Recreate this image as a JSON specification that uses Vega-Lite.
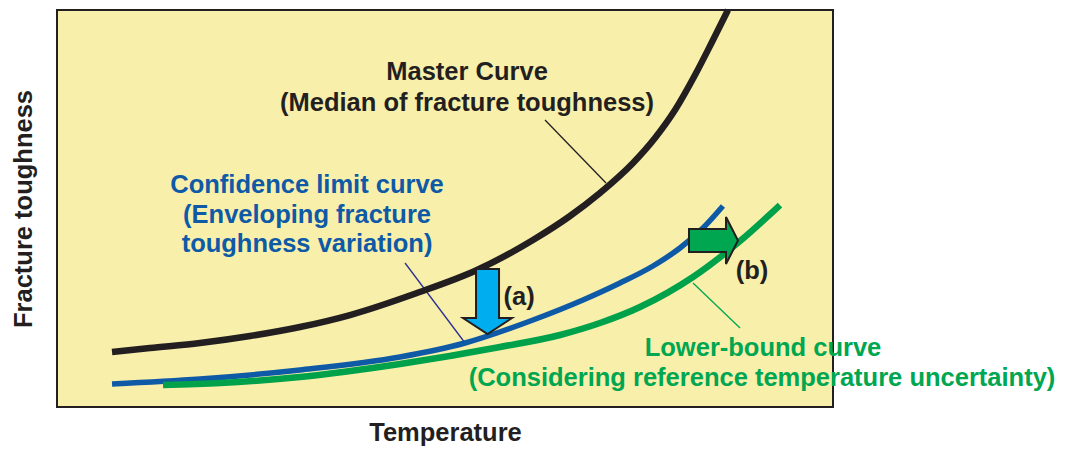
{
  "$schema": "https://vega.github.io/schema/vega-lite/v6.json",
  "width": 776,
  "height": 397,
  "autosize": {"type": "none"},
  "padding": {"left": 57, "top": 10, "right": 233, "bottom": 43},
  "background": "white",
  "config": {
    "view": {"stroke": "#231F20", "strokeWidth": 2, "fill": "#F8EFAB"},
    "font": "Liberation Sans"
  },
  "datasets": {
    "curves": [
      {"series": "master", "t": 7.09, "k": 13.85},
      {"series": "master", "t": 11.98, "k": 14.86},
      {"series": "master", "t": 18.43, "k": 16.12},
      {"series": "master", "t": 24.87, "k": 17.88},
      {"series": "master", "t": 31.31, "k": 20.15},
      {"series": "master", "t": 37.76, "k": 23.17},
      {"series": "master", "t": 46.39, "k": 28.72},
      {"series": "master", "t": 54.12, "k": 34.51},
      {"series": "master", "t": 61.34, "k": 42.07},
      {"series": "master", "t": 66.11, "k": 48.11},
      {"series": "master", "t": 69.97, "k": 53.9},
      {"series": "master", "t": 74.23, "k": 61.46},
      {"series": "master", "t": 77.06, "k": 67.76},
      {"series": "master", "t": 79.64, "k": 74.81},
      {"series": "master", "t": 82.22, "k": 83.63},
      {"series": "master", "t": 84.41, "k": 91.94},
      {"series": "master", "t": 86.47, "k": 100},
      {"series": "confidence", "t": 7.09, "k": 5.79},
      {"series": "confidence", "t": 18.43, "k": 7.05},
      {"series": "confidence", "t": 31.31, "k": 9.32},
      {"series": "confidence", "t": 44.2, "k": 12.59},
      {"series": "confidence", "t": 52.58, "k": 16.12},
      {"series": "confidence", "t": 61.34, "k": 21.91},
      {"series": "confidence", "t": 67.78, "k": 26.95},
      {"series": "confidence", "t": 72.55, "k": 31.23},
      {"series": "confidence", "t": 76.8, "k": 35.52},
      {"series": "confidence", "t": 80.28, "k": 40.05},
      {"series": "confidence", "t": 83.25, "k": 45.09},
      {"series": "confidence", "t": 85.82, "k": 50.63},
      {"series": "lower", "t": 13.66, "k": 5.54},
      {"series": "lower", "t": 21.01, "k": 6.05},
      {"series": "lower", "t": 31.31, "k": 7.56},
      {"series": "lower", "t": 44.2, "k": 10.83},
      {"series": "lower", "t": 57.09, "k": 15.11},
      {"series": "lower", "t": 64.82, "k": 18.14},
      {"series": "lower", "t": 69.97, "k": 21.16},
      {"series": "lower", "t": 75.13, "k": 25.19},
      {"series": "lower", "t": 81.96, "k": 32.75},
      {"series": "lower", "t": 88.02, "k": 41.81},
      {"series": "lower", "t": 93.17, "k": 50.88}
    ],
    "leaders": [
      {"id": "master", "t": 62.89, "k": 72.29},
      {"id": "master", "t": 70.75, "k": 56.42},
      {"id": "confidence", "t": 44.85, "k": 36.27},
      {"id": "confidence", "t": 52.58, "k": 16.12},
      {"id": "lower", "t": 81.96, "k": 31.23},
      {"id": "lower", "t": 88.02, "k": 19.9}
    ],
    "labels": [
      {"group": "master", "t": 52.84, "k": 84.38, "label": "Master Curve"},
      {"group": "master", "t": 52.84, "k": 76.57, "label": "(Median of fracture toughness)"},
      {"group": "confidence", "t": 32.22, "k": 55.92, "label": "Confidence limit curve"},
      {"group": "confidence", "t": 32.22, "k": 48.36, "label": "(Enveloping fracture"},
      {"group": "confidence", "t": 32.22, "k": 41.06, "label": "toughness variation)"},
      {"group": "master", "t": 59.54, "k": 27.71, "label": "(a)"},
      {"group": "master", "t": 89.56, "k": 34.26, "label": "(b)"},
      {"group": "lower", "t": 90.98, "k": 14.86, "label": "Lower-bound curve"},
      {"group": "lower", "t": 90.85, "k": 7.3, "label": "(Considering reference temperature uncertainty)"}
    ],
    "arrows": [
      {"arrow": "a", "t": 55.48, "k": 26.57},
      {"arrow": "b", "t": 84.6, "k": 41.94}
    ]
  },
  "encoding": {
    "x": {
      "field": "t", "type": "quantitative",
      "scale": {"domain": [0, 100], "nice": false, "zero": false},
      "axis": {"title": "Temperature", "domain": false, "ticks": false, "labels": false, "grid": false,
               "titleFontSize": 25.5, "titleFont": "Liberation Sans", "titleFontWeight": "bold", "titleColor": "#231F20", "titlePadding": 13}
    },
    "y": {
      "field": "k", "type": "quantitative",
      "scale": {"domain": [0, 100], "nice": false, "zero": false},
      "axis": {"title": "Fracture toughness", "domain": false, "ticks": false, "labels": false, "grid": false,
               "titleFontSize": 25.5, "titleFont": "Liberation Sans", "titleFontWeight": "bold", "titleColor": "#231F20", "titlePadding": 21}
    }
  },
  "layer": [
    {
      "data": {"name": "leaders"},
      "mark": {"type": "line", "strokeWidth": 1.3},
      "encoding": {
        "detail": {"field": "id"},
        "color": {"field": "id", "type": "nominal", "legend": null,
                  "scale": {"domain": ["master", "confidence", "lower"], "range": ["#231F20", "#2E3192", "#00A650"]}}
      }
    },
    {
      "data": {"name": "curves"},
      "transform": [{"filter": "datum.series === 'master'"}],
      "mark": {"type": "line", "strokeWidth": 6.5, "color": "#231F20", "interpolate": "monotone"},
      "encoding": {}
    },
    {
      "data": {"name": "curves"},
      "transform": [{"filter": "datum.series === 'confidence'"}],
      "mark": {"type": "line", "strokeWidth": 5.5, "color": "#0E5AA7", "interpolate": "monotone"},
      "encoding": {}
    },
    {
      "data": {"name": "curves"},
      "transform": [{"filter": "datum.series === 'lower'"}],
      "mark": {"type": "line", "strokeWidth": 6.5, "color": "#00A14B", "interpolate": "monotone"},
      "encoding": {}
    },
    {
      "data": {"name": "arrows"},
      "transform": [{"filter": "datum.arrow === 'a'"}],
      "mark": {"type": "point", "filled": true, "fill": "#00AEEF", "stroke": "#231F20", "strokeWidth": 2, "opacity": 1, "fillOpacity": 1,
               "size": 4225, "shape": "M-0.354,-1 L0.354,-1 L0.354,0.508 L0.754,0.508 L0,1 L-0.754,0.508 L-0.354,0.508 Z"},
      "encoding": {}
    },
    {
      "data": {"name": "arrows"},
      "transform": [{"filter": "datum.arrow === 'b'"}],
      "mark": {"type": "point", "filled": true, "fill": "#00A650", "stroke": "#231F20", "strokeWidth": 2, "opacity": 1, "fillOpacity": 1,
               "size": 2401, "shape": "M-1,-0.47 L0.51,-0.47 L0.51,-0.96 L1,0 L0.51,0.96 L0.51,0.47 L-1,0.47 Z"},
      "encoding": {}
    },
    {
      "data": {"name": "labels"},
      "mark": {"type": "text", "font": "Liberation Sans", "fontWeight": "bold", "fontSize": 25.5, "align": "center", "baseline": "middle"},
      "encoding": {
        "text": {"field": "label"},
        "color": {"field": "group", "type": "nominal", "legend": null,
                  "scale": {"domain": ["master", "confidence", "lower"], "range": ["#231F20", "#0E5AA7", "#00A650"]}}
      }
    }
  ],
  "resolve": {"scale": {"color": "independent"}}
}
